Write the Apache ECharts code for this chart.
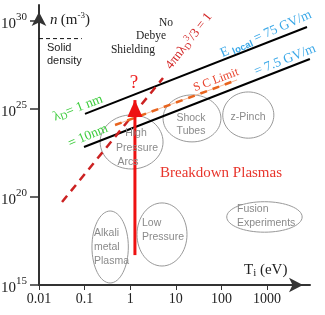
<!DOCTYPE html>
<html><head><meta charset="utf-8">
<script src="https://cdn.jsdelivr.net/npm/echarts@6/dist/echarts.min.js"></script>
<style>html,body{margin:0;padding:0;background:#fff}#c{width:325px;height:315px}</style>
</head><body><div id="c"></div>
<script>
// ---- data (T in eV, n in m^-3) ----
const tickT = [0.01, 0.1, 1, 10, 100, 1000];
const tickLabelsT = ['0.01', '0.1', '1', '10', '100', '1000'];
const tickExpN = [15, 20, 25, 30];

const solidDensityT = [0.01, 0.087];
const solidDensityN = [1e29, 1e29];

const eLocal75T = [0.102, 7530];
const eLocal75N = [5.25e24, 4.57e29];
const eLocal7p5T = [0.097, 8710];
const eLocal7p5N = [6.9e22, 6.9e27];

const debyeT = [0.032, 5.24];
const debyeN = [5.2e19, 5.75e26];

const scLimitT = [0.465, 220];
const scLimitN = [1.23e24, 4.47e26];

const breakdownT = [1.27, 1.27];
const breakdownN = [5e16, 3.2e25];

const regionNames = ['High Pressure Arcs', 'Shock Tubes', 'z-Pinch', 'Alkali metal Plasma', 'Low Pressure', 'Fusion Experiments'];
const regionTmin = [0.219, 5.25, 107, 0.145, 1.41, 131];
const regionTmax = [5.25, 97.7, 1413, 0.91, 17.6, 5900];
const regionNmin = [3.9e21, 1.35e23, 2.2e23, 1.3e15, 1.2e16, 1.0e18];
const regionNmax = [4.6e24, 6.3e25, 9.3e25, 1.6e19, 4.6e19, 5.4e19];

// ---- helpers ----
const L = Math.log10;
const pts = (T, N) => T.map((t, i) => [L(t), L(N[i])]);
const SERIF = "'Liberation Serif', 'DejaVu Serif', serif";
const SANS = "'Liberation Sans', Arial, sans-serif";

const chart = echarts.init(document.getElementById('c'), null, {renderer: 'canvas'});

const regionData = regionNames.map((nm, i) => [L(regionTmin[i]), L(regionTmax[i]), L(regionNmin[i]), L(regionNmax[i])]);

function txt(x, y, text, opt) {
  return Object.assign({
    type: 'text', x: x, y: y, z: 100,
    style: Object.assign({text: text, fontFamily: SERIF, fontSize: 13, fill: '#222', align: 'center', verticalAlign: 'middle'}, opt && opt.style || {})
  }, opt && opt.rotation !== undefined ? {rotation: opt.rotation} : {});
}

const grayStyle = {fontFamily: SANS, fontSize: 10.5, fill: '#8a8a8a'};

const option = {
  animation: false,
  backgroundColor: '#fff',
  grid: {left: 39, top: 5, right: 15, bottom: 30, outerBoundsMode: 'none', containLabel: false},
  xAxis: {
    type: 'value', min: -2, max: -2 + 271 / 45.6, interval: 1,
    splitLine: {show: false},
    axisLine: {onZero: false, lineStyle: {color: '#333', width: 2}, symbol: ['none', 'arrow'], symbolSize: [11, 14], symbolOffset: [0, -7]},
    axisTick: {length: 5, lineStyle: {color: '#333', width: 1}, customValues: tickT.map(L)},
    axisLabel: {
      customValues: tickT.map(L), margin: 7,
      fontFamily: SERIF, fontSize: 14, color: '#222',
      formatter: v => tickLabelsT[tickT.map(L).findIndex(t => Math.abs(t - v) < 1e-6)] || ''
    }
  },
  yAxis: {
    type: 'value', min: 15, max: 15 + 280 / 17.6, interval: 5,
    splitLine: {show: false},
    axisLine: {onZero: false, lineStyle: {color: '#333', width: 2}, symbol: ['none', 'arrow'], symbolSize: [11, 14], symbolOffset: [0, -7]},
    axisTick: {length: 9, lineStyle: {color: '#333', width: 1.5}, customValues: tickExpN},
    axisLabel: {
      customValues: tickExpN, margin: 12,
      formatter: v => '{b|10}{s|' + Math.round(v) + '}',
      rich: {
        b: {fontFamily: SERIF, fontSize: 15, color: '#222', padding: [6, 0, 0, 0]},
        s: {fontFamily: SERIF, fontSize: 11, color: '#222', padding: [0, 0, 8, 0]}
      }
    }
  },
  series: [
    {type: 'custom', coordinateSystem: 'cartesian2d', clip: false, z: 1,
      data: regionData,
      renderItem: function (params, api) {
        const p1 = api.coord([api.value(0), api.value(3)]);
        const p2 = api.coord([api.value(1), api.value(2)]);
        return {type: 'ellipse', shape: {cx: (p1[0] + p2[0]) / 2, cy: (p1[1] + p2[1]) / 2, rx: Math.abs(p2[0] - p1[0]) / 2, ry: Math.abs(p2[1] - p1[1]) / 2},
          style: {fill: 'none', stroke: '#999', lineWidth: 1}};
      }
    },
    {type: 'line', data: pts(solidDensityT, solidDensityN), symbol: 'none', clip: false,
      lineStyle: {color: '#111', width: 1, type: [4, 3]}},
    {type: 'line', data: pts(eLocal75T, eLocal75N), symbol: 'none', clip: false, lineStyle: {color: '#000', width: 2}},
    {type: 'line', data: pts(eLocal7p5T, eLocal7p5N), symbol: 'none', clip: false, lineStyle: {color: '#000', width: 2}},
    {type: 'line', data: pts(debyeT, debyeN), symbol: 'none', clip: false,
      lineStyle: {color: '#cc2222', width: 2.5, type: [8, 6]}},
    {type: 'line', data: pts(scLimitT, scLimitN), symbol: 'none', clip: false,
      lineStyle: {color: '#f5b896', width: 1}},
    {type: 'line', data: pts(scLimitT, scLimitN), symbol: 'none', clip: false,
      lineStyle: {color: '#e8641e', width: 2.5, type: [7, 6]}},
    {type: 'line', clip: false, z: 5,
      data: pts(breakdownT, breakdownN).map((p, i) => i === 1 ? {value: p, symbol: 'triangle', symbolSize: [15, 17], symbolOffset: [0, '50%']} : {value: p, symbol: 'none'}),
      lineStyle: {color: '#ee1111', width: 3}, itemStyle: {color: '#ee1111'}}
  ],
  graphic: [
    txt(50, 20, '{i|n} {r|(m}{s|-3}{r|)}', {style: {align: 'left', rich: {
      i: {fontFamily: SERIF, fontSize: 15, fontStyle: 'italic', fill: '#222'},
      r: {fontFamily: SERIF, fontSize: 15, fill: '#222'},
      s: {fontFamily: SERIF, fontSize: 9, fill: '#222', padding: [0, 0, 9, 0]}}}}),
    txt(244, 270, '{r|T}{sub|i}{r| (eV)}', {style: {align: 'left', rich: {
      r: {fontFamily: SERIF, fontSize: 15, fill: '#222'},
      sub: {fontFamily: SERIF, fontSize: 11, fill: '#222', padding: [7, 0, 0, 0]}}}}),
    txt(47, 48, 'Solid', {style: {align: 'left', fontFamily: SANS, fontSize: 11, fill: '#222'}}),
    txt(47, 61, 'density', {style: {align: 'left', fontFamily: SANS, fontSize: 11, fill: '#222'}}),
    txt(173, 23, 'No', {style: {align: 'right', fontSize: 11.5}}),
    txt(166, 36, 'Debye', {style: {align: 'right', fontSize: 11.5}}),
    txt(155, 50, 'Shielding', {style: {align: 'right', fontSize: 11.5}}),
    txt(134, 83, '?', {style: {fontSize: 19, fill: '#ee2222'}}),
    txt(221, 173, 'Breakdown Plasmas', {style: {fontSize: 15, fill: '#e8352c'}}),
    txt(78, 108, '{a|λ}{sub|D}{a|= 1 nm}', {rotation: 0.37, style: {rich: {
      a: {fontFamily: SERIF, fontSize: 13.5, fill: '#3ccc3c'},
      sub: {fontFamily: SERIF, fontSize: 10, fill: '#3ccc3c', padding: [6, 0, 0, 0]}}}}),
    txt(88, 136, '= 10nm', {rotation: 0.40, style: {fontSize: 13.5, fill: '#3ccc3c'}}),
    txt(266, 34, '{a|E }{sub|local}{a| = 75 GV/m}', {rotation: 0.42, style: {rich: {
      a: {fontFamily: SERIF, fontSize: 13.5, fill: '#3aa8e8'},
      sub: {fontFamily: SANS, fontSize: 9.5, fontWeight: 'bold', fill: '#3aa8e8', padding: [6, 0, 0, 0]}}}}),
    txt(285, 60, '= 7.5 GV/m', {rotation: 0.38, style: {fontSize: 13.5, fill: '#3aa8e8'}}),
    txt(189, 41, '{a|4πnλ}{sub|D}{sup|3}{a|/3 = 1}', {rotation: 0.91, style: {rich: {
      a: {fontFamily: SERIF, fontSize: 13, fill: '#d42a2a'},
      sub: {fontFamily: SERIF, fontSize: 9, fill: '#d42a2a', padding: [6, 0, 0, 0]},
      sup: {fontFamily: SERIF, fontSize: 9, fill: '#d42a2a', padding: [0, 0, 7, 0]}}}}),
    txt(216, 80, 'S C Limit', {rotation: 0.36, style: {fontSize: 12, fill: '#e8402a'}}),
    txt(136, 133, 'High', {style: grayStyle}),
    txt(137, 148, 'Pressure', {style: grayStyle}),
    txt(128, 162, 'Arcs', {style: grayStyle}),
    txt(191, 118, 'Shock', {style: grayStyle}),
    txt(191, 131, 'Tubes', {style: grayStyle}),
    txt(248, 117, 'z-Pinch', {style: grayStyle}),
    txt(94, 233, 'Alkali', {style: Object.assign({align: 'left'}, grayStyle)}),
    txt(94, 247, 'metal', {style: Object.assign({align: 'left'}, grayStyle)}),
    txt(94, 261, 'Plasma', {style: Object.assign({align: 'left'}, grayStyle)}),
    txt(142, 223, 'Low', {style: Object.assign({align: 'left'}, grayStyle)}),
    txt(142, 237, 'Pressure', {style: Object.assign({align: 'left'}, grayStyle)}),
    txt(237, 209, 'Fusion', {style: Object.assign({align: 'left'}, grayStyle)}),
    txt(237, 223, 'Experiments', {style: Object.assign({align: 'left'}, grayStyle)})
  ]
};
chart.setOption(option);
</script></body></html>
